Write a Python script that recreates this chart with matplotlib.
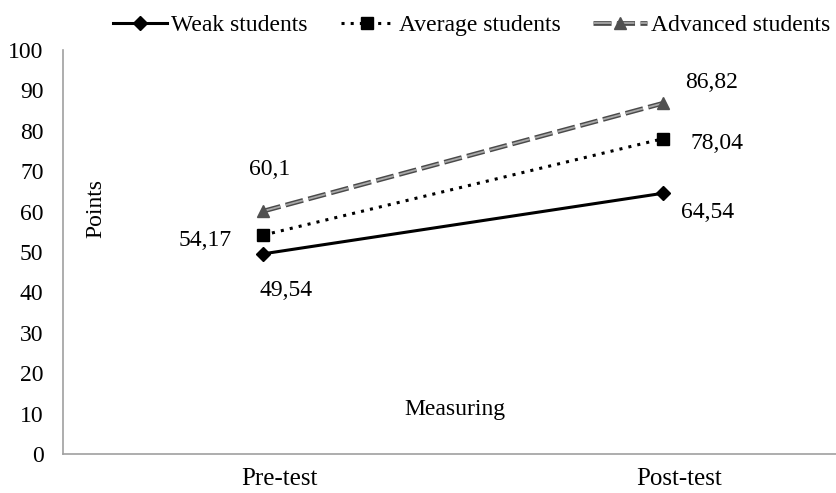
import matplotlib.pyplot as plt
import matplotlib.patheffects as pe
import matplotlib.transforms as mtransforms

plt.rcParams['font.family'] = ['Liberation Serif', 'DejaVu Serif']

# data
phases = ['Pre-test', 'Post-test']
weak = [49.54, 64.54]
average = [54.17, 78.04]
advanced = [60.1, 86.82]
y_ticks = list(range(0, 101, 10))

fig = plt.figure(figsize=(8.37, 4.93), dpi=100)
ax = fig.add_axes([63 / 837, 39 / 493, 800 / 837, 404 / 493])

x = list(range(len(phases)))

h_weak, = ax.plot(x, weak, color='black', lw=2.2, marker='D', ms=7)
h_avg, = ax.plot(x, average, color='black', lw=2.2, ls=(0, (1, 2)), marker='s', ms=8)
# advanced: outlined dashed line, markers drawn separately
h_adv_line, = ax.plot(x, advanced, color='#a8a8a8', lw=1.3, ls=(0, (10, 3)),
                      path_effects=[pe.Stroke(linewidth=3.4, foreground='#4a4a4a'), pe.Normal()])
h_adv_mk, = ax.plot(x, advanced, ls='none', marker='^', ms=9, color='#505050')

# value labels (offsets in pixels from the point)
label_offsets = {
    'weak': [(23, -37), (45, -19)],
    'average': [(-58, -5), (54, -5)],
    'advanced': [(7, 42), (49, 21)],
}
for key, vals in (('weak', weak), ('average', average), ('advanced', advanced)):
    for i, v in enumerate(vals):
        txt = ('%.2f' % v).rstrip('0').replace('.', ',')
        ax.annotate(txt, (x[i], v), xytext=label_offsets[key][i],
                    textcoords='offset pixels', ha='center', va='center',
                    fontsize=17)

ax.set_xlim(-0.5, 1.5)
ax.set_ylim(0, 100)
ax.set_xticks(x)
ax.set_xticklabels(phases, fontsize=18)
ax.set_yticks(y_ticks)
ax.tick_params(axis='y', labelsize=17, length=0, pad=14)
ax.tick_params(axis='x', length=0, pad=10)
shift = mtransforms.ScaledTranslation(0.16, 0, fig.dpi_scale_trans)
for lab in ax.get_xticklabels():
    lab.set_transform(lab.get_transform() + shift)

for s in ('top', 'right'):
    ax.spines[s].set_visible(False)
for s in ('left', 'bottom'):
    ax.spines[s].set_color('#a0a0a0')
    ax.spines[s].set_linewidth(1.2)

fig.text(96 / 837, 1 - 208 / 493, 'Points', rotation=90, ha='center', va='center', fontsize=17)
fig.text(455 / 837, 1 - 409 / 493, 'Measuring', ha='center', va='center', fontsize=17)

fig.legend([h_weak, h_avg, (h_adv_line, h_adv_mk)],
           ['Weak students', 'Average students', 'Advanced students'],
           loc='center', bbox_to_anchor=(472 / 837, 1 - 25 / 493), ncol=3,
           frameon=False, fontsize=17, handlelength=2.25, columnspacing=1.4,
           handletextpad=0.2, borderpad=0)

fig.savefig('out.png', dpi=100)
